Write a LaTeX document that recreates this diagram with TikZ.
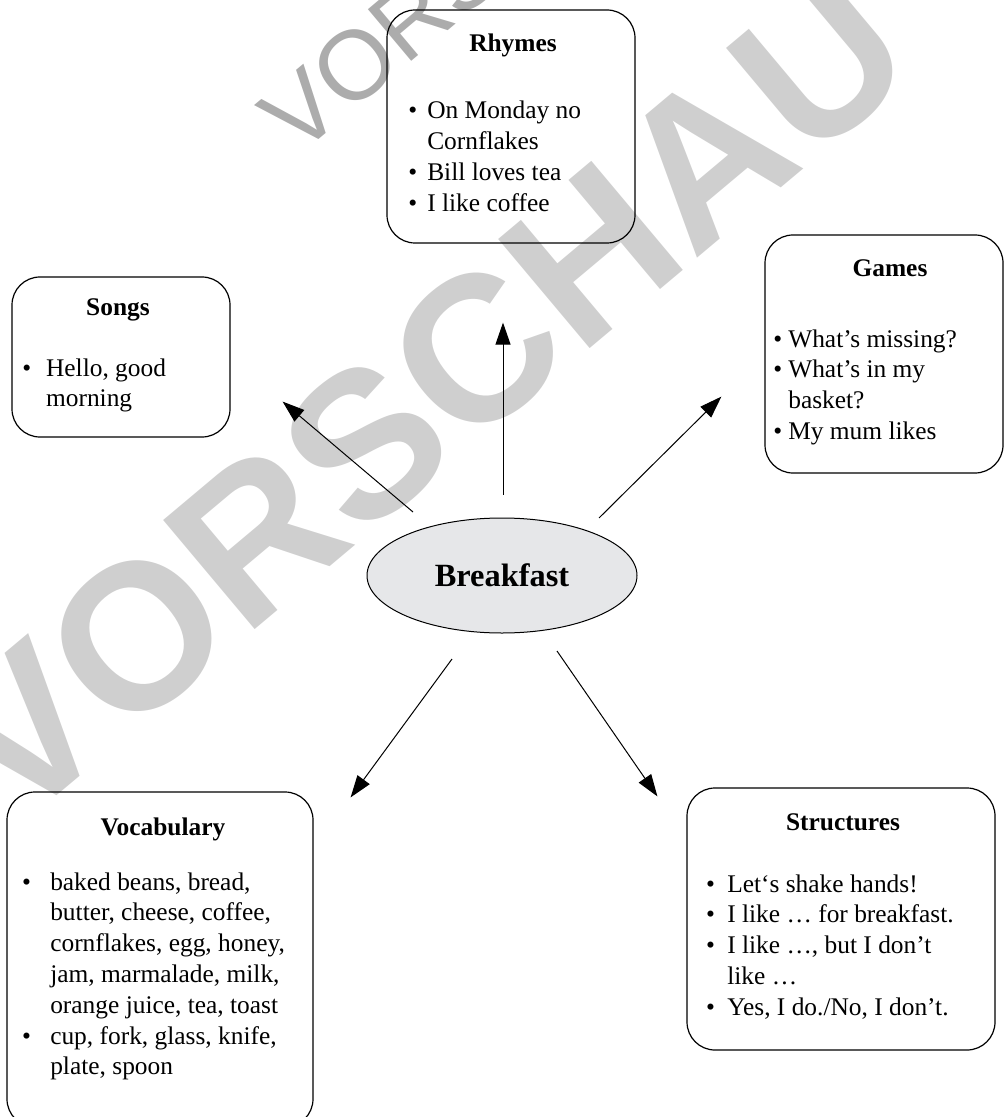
\documentclass[tikz,border=0pt]{standalone}
\usepackage{fontspec}
\setmainfont{Liberation Serif}
\newfontfamily\markfont{Liberation Sans}
\usetikzlibrary{shapes.geometric, arrows.meta}

\definecolor{markgray}{RGB}{207,207,207}
\definecolor{markdark}{RGB}{172,172,172}
\definecolor{ovalfill}{RGB}{230,231,233}

\newcommand{\mainsize}{\fontsize{12.7pt}{15.4pt}\selectfont}
\newcommand{\blist}[2]{\begin{tabular}[t]{@{}l@{\hspace{#1}}l@{}}#2\end{tabular}}

\tikzset{
	box/.style = {draw, rounded corners=14pt, line width=0.6pt, inner sep=0pt},
	head/.style = {font=\mainsize\bfseries, anchor=base, inner sep=0pt},
	items/.style = {font=\mainsize, anchor=base west, inner sep=0pt},
	arrow/.style = {-{Triangle[length=11pt, width=7.5pt]}, line width=0.5pt},
	watermark/.style = {anchor=base west, inner sep=0pt, rotate=40},
}

\begin{document}
\begin{tikzpicture}[x=0.5pt, y=-0.5pt]

	\useasboundingbox (0,0) rectangle (1004,1117);
	\clip (0,0) rectangle (1004,1117);

	% watermark
	\node[watermark, text=markgray, font=\markfont\bfseries\fontsize{103.5pt}{110pt}\selectfont] (mark-big) at (15,831) {VORSCHAU};
	\node[watermark, text=markdark, font=\markfont\fontsize{49pt}{55pt}\selectfont] (mark-thin) at (297,158) {VORSCHAU};

	% boxes
	\node[box, minimum width=124pt, minimum height=116.5pt] (rhymes) at (511,126.5) {};
	\node[box, minimum width=109pt, minimum height=80pt] (songs) at (121,357) {};
	\node[box, minimum width=119pt, minimum height=119pt] (games) at (884,354) {};
	\node[box, minimum width=153pt, minimum height=167.5pt] (vocab) at (160,959.5) {};
	\node[box, minimum width=154pt, minimum height=131pt] (structures) at (841,919) {};

	\node[ellipse, draw, fill=ovalfill, line width=0.5pt, inner sep=0pt,
		minimum width=135pt, minimum height=57.5pt,
		font=\fontsize{16.2pt}{19pt}\selectfont\bfseries] (breakfast) at (502,575.5) {Breakfast};

	% titles
	\node[head] (rhymes-head) at (513,52) {Rhymes};
	\node[head] (songs-head) at (118,315) {Songs};
	\node[head] (games-head) at (890,277) {Games};
	\node[head] (vocab-head) at (163,835) {Vocabulary};
	\node[head] (structures-head) at (843,830) {Structures};

	% lists
	\node[items] (rhymes-list) at (408,119) {\blist{5pt}{\textbullet & On Monday no\\
		& Cornflakes\\
		\textbullet & Bill loves tea\\
		\textbullet & I like coffee}};
	\node[items] (songs-list) at (22,376) {\blist{7.4pt}{\textbullet & Hello, good\\
		& morning}};
	\node[items] (games-list) at (773,347) {\blist{3pt}{\textbullet & What’s missing?\\
		\textbullet & What’s in my\\
		& basket?\\
		\textbullet & My mum likes}};
	\node[items] (vocab-list) at (21.6,890) {\blist{9.7pt}{\textbullet & baked beans, bread,\\
		& butter, cheese, coffee,\\
		& cornflakes, egg, honey,\\
		& jam, marmalade, milk,\\
		& orange juice, tea, toast\\
		\textbullet & cup, fork, glass, knife,\\
		& plate, spoon}};
	\node[items] (structures-list) at (705.6,892) {\blist{6.2pt}{\textbullet & Let‘s shake hands!\\
		\textbullet & I like … for breakfast.\\
		\textbullet & I like …, but I don’t\\
		& like …\\
		\textbullet & Yes, I do./No, I don’t.}};

	% arrows
	\draw[arrow] ([shift={(1,-23)}]breakfast.north) -- ([shift={(-8,79)}]rhymes.south);
	\draw[arrow] ([shift={(-89,-63.5)}]breakfast.center) -- ([shift={(52,-36)}]songs.south east);
	\draw[arrow] ([shift={(97,-57.5)}]breakfast.center) -- ([shift={(-43,-77)}]games.south west);
	\draw[arrow] ([shift={(-50,83.5)}]breakfast.center) -- ([shift={(37,6)}]vocab.north east);
	\draw[arrow] ([shift={(55,75.5)}]breakfast.center) -- ([shift={(-29,9)}]structures.north west);

\end{tikzpicture}
\end{document}
